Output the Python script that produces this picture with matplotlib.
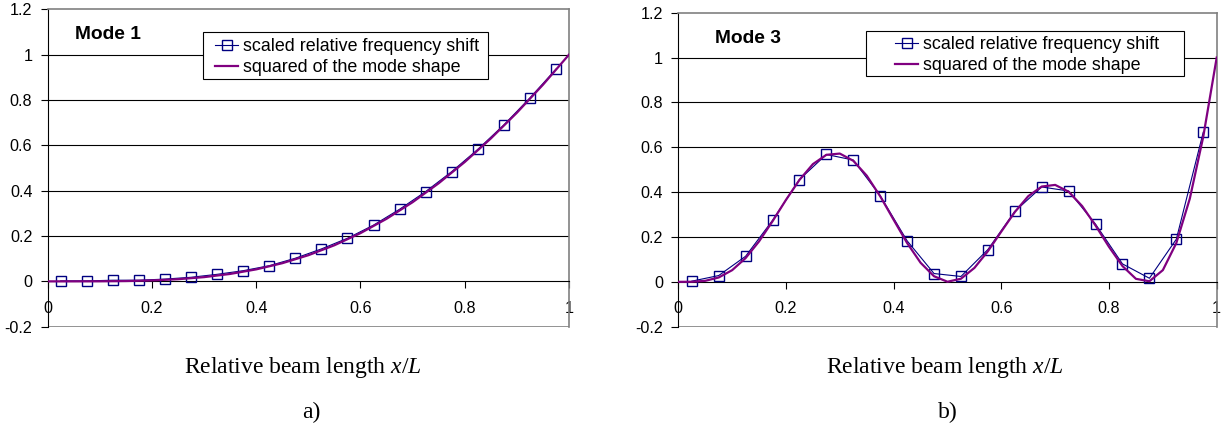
import numpy as np
import matplotlib.pyplot as plt
from matplotlib.patches import Rectangle

plt.rcParams['font.family'] = ['Liberation Sans', 'DejaVu Sans']
plt.rcParams['mathtext.fontset'] = 'custom'
plt.rcParams['mathtext.rm'] = 'Liberation Serif'
plt.rcParams['mathtext.it'] = 'Liberation Serif:italic'

# marker positions (relative beam length) for the frequency shift series
x_pts = [0.025, 0.075, 0.125, 0.175, 0.225, 0.275, 0.325, 0.375, 0.425, 0.475,
         0.525, 0.575, 0.625, 0.675, 0.725, 0.775, 0.825, 0.875, 0.925, 0.975]

# Mode 1
shift_mode1 = [0.002, 0.002, 0.005, 0.005, 0.010, 0.018, 0.031, 0.047, 0.069, 0.102,
               0.143, 0.190, 0.248, 0.318, 0.396, 0.484, 0.582, 0.690, 0.809, 0.936]
x_shape1 = [0.0, 0.05, 0.1, 0.15, 0.2, 0.25, 0.3, 0.35, 0.4, 0.45, 0.5,
            0.55, 0.6, 0.65, 0.7, 0.75, 0.8, 0.85, 0.9, 0.95, 1.0]
shape_mode1 = [0.0, 0.00002, 0.00028, 0.00136, 0.00408, 0.00947, 0.01863, 0.03272,
               0.05285, 0.08006, 0.11528, 0.15927, 0.21265, 0.27584, 0.34913,
               0.43262, 0.52632, 0.63008, 0.74373, 0.86710, 1.0]

# Mode 3
shift_mode3 = [0.003, 0.028, 0.114, 0.274, 0.456, 0.568, 0.543, 0.384, 0.183, 0.037,
               0.024, 0.144, 0.314, 0.423, 0.405, 0.257, 0.080, 0.016, 0.190, 0.667]
x_shape3 = [0.0, 0.025, 0.05, 0.075, 0.1, 0.125, 0.15, 0.175, 0.2, 0.225, 0.25,
            0.275, 0.3, 0.325, 0.35, 0.375, 0.4, 0.425, 0.45, 0.475, 0.5,
            0.525, 0.55, 0.575, 0.6, 0.625, 0.65, 0.675, 0.7, 0.725, 0.75,
            0.775, 0.8, 0.825, 0.85, 0.875, 0.9, 0.925, 0.95, 0.975, 1.0]
shape_mode3 = [0.0, 0.00033, 0.00449, 0.01947, 0.05202, 0.10592, 0.18046, 0.27013,
               0.36543, 0.45444, 0.52490, 0.56633, 0.57190, 0.53975, 0.47344,
               0.38157, 0.27660, 0.17300, 0.08512, 0.02496, 0.00039, 0.01389,
               0.06214, 0.13654, 0.22444, 0.31110, 0.38197, 0.42490, 0.43218,
               0.40180, 0.33803, 0.25107, 0.15587, 0.07037, 0.01340, 0.00252,
               0.05228, 0.17302, 0.37051, 0.64659, 1.0]

xticks = [0, 0.2, 0.4, 0.6, 0.8, 1.0]
xtick_labels = ['0', '0.2', '0.4', '0.6', '0.8', '1']
yticks = [-0.2, 0, 0.2, 0.4, 0.6, 0.8, 1.0, 1.2]
ytick_labels = ['-0.2', '0', '0.2', '0.4', '0.6', '0.8', '1', '1.2']

W, H = 1223, 432
fig = plt.figure(figsize=(W / 100, H / 100), dpi=100)
ax1 = fig.add_axes([47.7 / W, 1 - 326.7 / H, (569 - 47.7) / W, (326.7 - 9.3) / H])
ax2 = fig.add_axes([678.3 / W, 1 - 326.7 / H, (1216.7 - 678.3) / W, (326.7 - 12.7) / H])


def draw_panel(ax, shift, xs, shape, title, tx, ty, leg_anchor, box):
    ax.plot(x_pts, shift, color='#000080', lw=0.8, marker='s', ms=7,
            mfc='none', mec='#000080', mew=1.0, zorder=3,
            label='scaled relative frequency shift')
    ax.plot(xs, shape, color='#800080', lw=1.6, zorder=4,
            label='squared of the mode shape')
    ax.set_xlim(0, 1)
    ax.set_ylim(-0.2, 1.2)
    ax.set_xticks(xticks, xtick_labels)
    ax.set_yticks(yticks, ytick_labels)
    ax.tick_params(axis='both', labelsize=11.6, colors='black', width=0.8)
    ax.tick_params(axis='y', length=5, pad=6)
    ax.tick_params(axis='x', length=5, pad=9, direction='out')
    # horizontal grid lines (not on the plot-area border)
    for y in yticks[2:-1]:
        ax.axhline(y, color='black', lw=0.8, zorder=1)
    ax.axhline(-0.2, color='#808080', lw=1.2, zorder=1)
    ax.spines['bottom'].set_position(('data', 0))
    ax.spines['bottom'].set_color('black')
    ax.spines['bottom'].set_linewidth(0.8)
    ax.spines['left'].set_color('black')
    ax.spines['left'].set_linewidth(0.8)
    for s in ['top', 'right']:
        ax.spines[s].set_color('#808080')
        ax.spines[s].set_linewidth(1.2)
    ax.text(tx, ty, title, fontsize=13.8, fontweight='bold', va='center', ha='left')
    # legend box drawn separately (wider padding than matplotlib's frame)
    x0, y0, x1, y1 = box
    ax.add_patch(Rectangle((x0 / W, 1 - y1 / H), (x1 - x0) / W, (y1 - y0) / H,
                           transform=fig.transFigure, facecolor='white',
                           edgecolor='black', lw=0.8, zorder=4.5, clip_on=False))
    leg = ax.legend(loc='center left',
                    bbox_to_anchor=(leg_anchor[0] / W, 1 - leg_anchor[1] / H),
                    bbox_transform=fig.transFigure, fontsize=12.9, frameon=False,
                    borderpad=0, labelspacing=0.22, handlelength=1.3,
                    handletextpad=0.28, borderaxespad=0)
    leg.set_zorder(5)


draw_panel(ax1, shift_mode1, x_shape1, shape_mode1, 'Mode 1', 0.052, 1.09,
           (215, 56.8), (203, 32, 488, 79))
draw_panel(ax2, shift_mode3, x_shape3, shape_mode3, 'Mode 3', 0.068, 1.087,
           (895, 54.8), (866, 30.7, 1184, 75.7))

xlabel = r'Relative beam length $\mathit{x/L}$'
for cx in (303.3, 945):
    fig.text(cx / W, 1 - 372.7 / H, xlabel, fontsize=17, family='Liberation Serif',
             ha='center', va='baseline')
for cx, tag in [(311.7, 'a)'), (948.3, 'b)')]:
    fig.text(cx / W, 1 - 418.5 / H, tag, fontsize=17, family='Liberation Serif',
             ha='center', va='baseline')

fig.savefig('out.png', dpi=100)
